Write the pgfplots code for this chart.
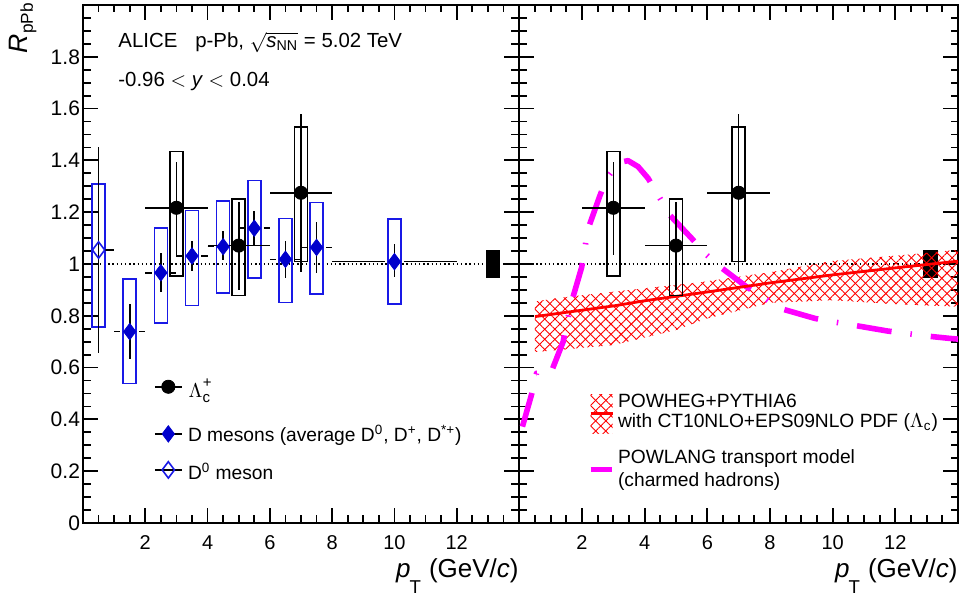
\documentclass[border=0pt]{standalone}
\usepackage{pgfplots}
\pgfplotsset{compat=1.18}
\usepackage{pgfplotstable}
\usepackage{amsmath}
\usepackage{fontspec}
\setmainfont{Liberation Sans}
\usetikzlibrary{patterns.meta}

\definecolor{dblue}{RGB}{0,0,204}
\definecolor{bblue}{RGB}{25,25,230}
\definecolor{mag}{RGB}{255,0,255}
\definecolor{hred}{RGB}{255,0,0}

% Lambda_c+ : x, y, x errors, stat errors
\pgfplotstableread{
x y xm xp ym yp
3 1.217 1 1 0.182 0.178
5 1.071 1 1 0.171 0.169
7 1.275 1 1 0.305 0.304
}\lcdata

% D mesons average: x, y, stat errors
\pgfplotstableread{
x y ym yp
1.5 0.739 0.106 0.105
2.5 0.966 0.073 0.075
3.5 1.031 0.057 0.059
4.5 1.067 0.052 0.060
5.5 1.138 0.065 0.068
6.5 1.018 0.073 0.072
7.5 1.064 0.100 0.098
10 1.009 0.059 0.068
}\ddata

% D0 meson
\pgfplotstableread{
x y ym yp
0.5 1.054 0.399 0.399
}\dzdata

\pgfplotsset{
  hatchA/.style={draw=none, pattern={Lines[angle=45,distance=3.6pt,line width=0.45pt]}, pattern color=hred},
  hatchB/.style={draw=none, pattern={Lines[angle=-45,distance=3.6pt,line width=0.45pt]}, pattern color=hred},
  sysbox/.style={line width=0.8pt, line cap=rect, unbounded coords=jump, mark=none},
  powlang/.style={mag, line width=2.8pt, line cap=butt, line join=round,
     dash pattern=on 17.5pt off 9.5pt on 0.75pt off 9.5pt, mark=none},
  panel/.style={
    scale only axis, height=259pt,
    xmin=0, xmax=14, ymin=0, ymax=2,
    clip=false,
    axis line style={line width=1pt},
    xtick={0,2,4,6,8,10,12,14},
    xticklabels={,2,4,6,8,10,12,},
    ytick={0,0.2,0.4,0.6,0.8,1,1.2,1.4,1.6,1.8,2},
    minor xtick={0,0.5,...,14},
    minor ytick={0,0.05,...,2},
    major tick length=7.5pt, minor tick length=3.75pt,
    tick style={black, line width=0.9pt},
    tick align=inside,
    xticklabel style={font=\fontsize{10}{12}\selectfont, yshift=-2.7pt},
    yticklabel style={font=\fontsize{10.5}{12}\selectfont, xshift=2pt},
  },
}

\newcommand{\ptlabel}{\textit{p}\kern-0.5pt\raisebox{-8pt}{\fontsize{9.3}{10}\selectfont T}\hspace{4pt}(GeV/\textit{c})}

\begin{document}
\begin{tikzpicture}

%================ LEFT PANEL =================
\begin{axis}[panel, width=218pt, at={(41.5pt,38pt)}, anchor=south west,
  yticklabels={0,0.2,0.4,0.6,0.8,1,1.2,1.4,1.6,1.8,{}}]

% unity line
\addplot[black, line width=0.7pt, dash pattern=on 0.7pt off 1.4pt, mark=none] coordinates {(0,1) (14,1)};

% global normalisation uncertainty
\addplot[fill=black, draw=black, line width=0.3pt, mark=none] coordinates {(12.94,0.949) (13.37,0.949) (13.37,1.051) (12.94,1.051)} -- cycle;

% systematic boxes: D mesons and D0
\addplot[bblue, sysbox] coordinates {
 (0.29,0.756) (0.71,0.756) (0.71,1.310) (0.29,1.310) (0.29,0.756) (nan,nan)
 (1.29,0.539) (1.71,0.539) (1.71,0.943) (1.29,0.943) (1.29,0.539) (nan,nan)
 (2.29,0.772) (2.71,0.772) (2.71,1.140) (2.29,1.140) (2.29,0.772) (nan,nan)
 (3.29,0.839) (3.71,0.839) (3.71,1.206) (3.29,1.206) (3.29,0.839) (nan,nan)
 (4.29,0.887) (4.71,0.887) (4.71,1.243) (4.29,1.243) (4.29,0.887) (nan,nan)
 (5.29,0.947) (5.71,0.947) (5.71,1.322) (5.29,1.322) (5.29,0.947) (nan,nan)
 (6.29,0.851) (6.71,0.851) (6.71,1.176) (6.29,1.176) (6.29,0.851) (nan,nan)
 (7.29,0.883) (7.71,0.883) (7.71,1.237) (7.29,1.237) (7.29,0.883) (nan,nan)
 (9.79,0.846) (10.21,0.846) (10.21,1.174) (9.79,1.174) (9.79,0.846)
};

% systematic boxes: Lambda_c
\addplot[black, sysbox] coordinates {
 (2.79,0.954) (3.21,0.954) (3.21,1.434) (2.79,1.434) (2.79,0.954) (nan,nan)
 (4.79,0.878) (5.21,0.878) (5.21,1.250) (4.79,1.250) (4.79,0.878) (nan,nan)
 (6.79,1.009) (7.21,1.009) (7.21,1.529) (6.79,1.529) (6.79,1.009)
};

% horizontal bin-width bars of D mesons
\addplot[black, line width=0.8pt, unbounded coords=jump, mark=none] coordinates {
 (0.72,1.054) (1,1.054) (nan,nan)
 (1,0.739) (1.2,0.739) (nan,nan) (1.8,0.739) (2,0.739) (nan,nan)
 (2,0.966) (2.2,0.966) (nan,nan) (2.8,0.966) (3,0.966) (nan,nan)
 (3,1.031) (3.2,1.031) (nan,nan) (3.8,1.031) (4,1.031) (nan,nan)
 (4,1.067) (4.2,1.067) (nan,nan) (4.8,1.067) (5,1.067) (nan,nan)
 (5,1.138) (5.2,1.138) (nan,nan) (5.8,1.138) (6,1.138) (nan,nan)
 (6,1.018) (6.2,1.018) (nan,nan) (6.8,1.018) (7,1.018) (nan,nan)
 (7,1.064) (7.2,1.064) (nan,nan) (7.8,1.064) (8,1.064) (nan,nan)
 (8,1.009) (9.7,1.009) (nan,nan) (10.3,1.009) (12,1.009)
};

% D0 meson
\addplot[only marks, mark=diamond, mark size=4.1pt, bblue, mark options={fill=white, line width=0.8pt},
  error bars/.cd, y dir=both, y explicit, error mark=none, error bar style={line width=0.8pt, black}]
  table[x=x, y=y, y error minus=ym, y error plus=yp]{\dzdata};

% D mesons
\addplot[only marks, mark=diamond*, mark size=4.1pt, dblue, mark options={line width=0.4pt},
  error bars/.cd, y dir=both, y explicit, error mark=none, error bar style={line width=0.8pt, black}]
  table[x=x, y=y, y error minus=ym, y error plus=yp]{\ddata};

% Lambda_c
\addplot[only marks, mark=*, mark size=3.3pt, black,
  error bars/.cd, x dir=both, x explicit, y dir=both, y explicit,
  error mark=none, error bar style={line width=0.8pt, black}]
  table[x=x, y=y, x error minus=xm, x error plus=xp, y error minus=ym, y error plus=yp]{\lcdata};

% legend symbols
\addplot[black, line width=0.8pt, mark=none] coordinates {(2.31,0.526) (3.17,0.526)};
\addplot[only marks, mark=*, mark size=3.3pt, black] coordinates {(2.74,0.526)};
\addplot[black, line width=0.8pt, mark=none] coordinates {(2.31,0.344) (3.17,0.344)};
\addplot[only marks, mark=diamond*, mark size=4.1pt, dblue] coordinates {(2.74,0.344)};
\addplot[black, line width=0.8pt, mark=none] coordinates {(2.31,0.205) (3.17,0.205)};
\addplot[only marks, mark=diamond, mark size=4.1pt, bblue, mark options={fill=white, line width=0.8pt}] coordinates {(2.74,0.205)};

% legend texts
\node[anchor=base west, inner sep=0pt, font=\fontsize{10}{12}\selectfont] at (axis cs:3.38,0.485) {$\Lambda$\raisebox{-2.8pt}{\fontsize{7.5}{8}\selectfont c}\kern-3.6pt\raisebox{5pt}{\fontsize{7.5}{8}\selectfont +}};
\node[anchor=base west, inner sep=0pt, font=\fontsize{9.6}{12}\selectfont] at (axis cs:3.36,0.314) {D mesons (average D\textsuperscript{0}, D\textsuperscript{+}, D\textsuperscript{*+})};
\node[anchor=base west, inner sep=0pt, font=\fontsize{9.6}{12}\selectfont] at (axis cs:3.36,0.166) {D\textsuperscript{0} meson};

% header texts
\node[anchor=base west, inner sep=0pt, font=\fontsize{10.2}{12}\selectfont] at (axis cs:1.124,1.834) {ALICE\hspace{9pt}p-Pb, $\sqrt{\textit{s}_{\text{NN}}}$ = 5.02 TeV};
\node[anchor=base west, inner sep=0pt, font=\fontsize{10.2}{12}\selectfont] at (axis cs:1.124,1.685) {-0.96 $<$ \textit{y} $<$ 0.04};

% axis titles
\node[anchor=base east, inner sep=0pt, font=\fontsize{13}{15}\selectfont] at (rel axis cs:1,0) [yshift=-27.5pt] {\ptlabel};
\node[xshift=-28pt, yshift=1pt, rotate=90, anchor=base east, inner sep=0pt, font=\fontsize{13.3}{15}\selectfont] at (rel axis cs:0,1) {\textit{R}\raisebox{-3pt}{\fontsize{8.6}{10}\selectfont pPb}};
\end{axis}

%================ RIGHT PANEL =================
\begin{axis}[panel, width=219.35pt, at={(259.65pt,38pt)}, anchor=south west,
  yticklabels={}]

\addplot[black, line width=0.7pt, dash pattern=on 0.7pt off 1.4pt, mark=none] coordinates {(0,1) (14,1)};

\addplot[fill=black, draw=black, line width=0.3pt, mark=none] coordinates {(12.90,0.949) (13.33,0.949) (13.33,1.051) (12.90,1.051)} -- cycle;

% POWHEG+PYTHIA6 band
\addplot[hatchA, mark=none] coordinates {
 (0.5,0.855) (1.2,0.868) (3,0.893) (5.8,0.930) (8,0.968) (10,1.012) (12.5,1.037) (14,1.055)
 (14,0.835) (12,0.845) (10,0.860) (8,0.850) (6,0.790) (5,0.745) (3,0.687) (0.5,0.660)} -- cycle;
\addplot[hatchB, mark=none] coordinates {
 (0.5,0.855) (1.2,0.868) (3,0.893) (5.8,0.930) (8,0.968) (10,1.012) (12.5,1.037) (14,1.055)
 (14,0.835) (12,0.845) (10,0.860) (8,0.850) (6,0.790) (5,0.745) (3,0.687) (0.5,0.660)} -- cycle;

% POWLANG
\addplot[powlang] coordinates {
 (0.10,0.372) (0.40,0.500) (0.55,0.578) (1.01,0.580) (1.40,0.700) (1.51,0.770)
 (1.67,0.854) (1.99,0.987) (2.09,1.058) (2.18,1.131) (2.57,1.263) (2.79,1.331)
 (3.18,1.392) (3.47,1.399) (3.79,1.376) (4.11,1.331) (4.43,1.266) (4.80,1.189)
 (5.50,1.099) (5.92,1.041) (6.40,0.990) (7.25,0.912) (7.83,0.868) (8.31,0.829)
 (9.43,0.790) (10.0,0.777) (10.65,0.764) (11.76,0.741) (12.35,0.732) (12.99,0.722)
 (13.71,0.713) (14.0,0.710)};

% POWHEG central
\addplot[hred, line width=1.4pt, mark=none] coordinates {
 (0.5,0.797) (3,0.838) (4,0.858) (6,0.892) (8,0.927) (10,0.958) (12,0.985) (14,1.011)};

% Lambda_c data
\addplot[black, sysbox] coordinates {
 (2.79,0.954) (3.21,0.954) (3.21,1.434) (2.79,1.434) (2.79,0.954) (nan,nan)
 (4.79,0.878) (5.21,0.878) (5.21,1.250) (4.79,1.250) (4.79,0.878) (nan,nan)
 (6.79,1.009) (7.21,1.009) (7.21,1.529) (6.79,1.529) (6.79,1.009)
};
\addplot[only marks, mark=*, mark size=3.3pt, black,
  error bars/.cd, x dir=both, x explicit, y dir=both, y explicit,
  error mark=none, error bar style={line width=0.8pt, black}]
  table[x=x, y=y, x error minus=xm, x error plus=xp, y error minus=ym, y error plus=yp]{\lcdata};

% legend symbols
\addplot[hatchA, mark=none] coordinates {(2.28,0.346) (2.98,0.346) (2.98,0.497) (2.28,0.497)} -- cycle;
\addplot[hatchB, mark=none] coordinates {(2.28,0.346) (2.98,0.346) (2.98,0.497) (2.28,0.497)} -- cycle;
\addplot[hred, line width=1.4pt, mark=none] coordinates {(2.28,0.4236) (2.98,0.4236)};
\addplot[mag, line width=2.8pt, mark=none] coordinates {(2.28,0.207) (2.95,0.207)};

\node[anchor=base west, inner sep=0pt, font=\fontsize{9.6}{12}\selectfont] at (axis cs:3.14,0.4467) {POWHEG+PYTHIA6};
\node[anchor=base west, inner sep=0pt, font=\fontsize{9.6}{12}\selectfont] at (axis cs:3.14,0.3695) {with CT10NLO+EPS09NLO PDF ($\Lambda_{\text{c}}$)};
\node[anchor=base west, inner sep=0pt, font=\fontsize{9.6}{12}\selectfont] at (axis cs:3.14,0.2305) {POWLANG transport model};
\node[anchor=base west, inner sep=0pt, font=\fontsize{9.6}{12}\selectfont] at (axis cs:3.14,0.142) {(charmed hadrons)};

\node[anchor=base east, inner sep=0pt, font=\fontsize{13}{15}\selectfont] at (rel axis cs:1,0) [yshift=-27.5pt] {\ptlabel};
\end{axis}

\pgfresetboundingbox
\useasboundingbox (0,0) rectangle (480pt,299.5pt);
\end{tikzpicture}
\end{document}
